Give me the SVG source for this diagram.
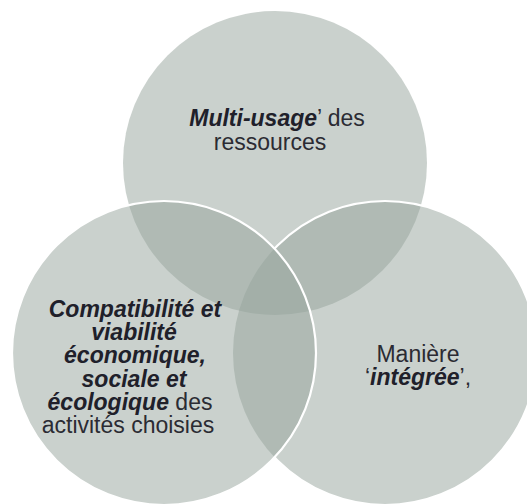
<svg xmlns="http://www.w3.org/2000/svg" width="527" height="504" viewBox="0 0 527 504">
  <style>
    .fill { fill: #95a49c; fill-opacity: 0.5; }
    .edge { fill: none; stroke: #ffffff; stroke-width: 2.2; }
    .t { font-family: "Liberation Sans", Arial, sans-serif; font-size: 23px; fill: #2b2b33; text-anchor: middle; }
    .b { font-weight: bold; font-style: italic; fill: #20202a; }
  </style>
  <defs>
    <mask id="outsideBL" maskUnits="userSpaceOnUse" x="0" y="0" width="527" height="504">
      <rect x="0" y="0" width="527" height="504" fill="#ffffff"/>
      <circle cx="164" cy="353" r="152" fill="#000000"/>
    </mask>
  </defs>
  <rect x="0" y="0" width="527" height="504" fill="#ffffff"/>

  <g id="node-multi-usage">
    <circle class="fill" cx="275" cy="163" r="152"/>
  </g>

  <g id="node-maniere-integree">
    <circle class="fill" cx="385" cy="353" r="152"/>
    <circle class="edge" cx="385" cy="353" r="152" mask="url(#outsideBL)"/>
  </g>

  <g id="node-compatibilite">
    <circle class="fill" cx="164" cy="353" r="152"/>
    <circle class="edge" cx="164" cy="353" r="152"/>
  </g>

  <g id="connectors"/>

  <g id="labels">
    <text class="t" x="277" y="126"><tspan class="b">Multi-usage</tspan>’ des</text>
    <text class="t" x="270" y="150">ressources</text>

    <text class="t" x="418" y="362">Manière</text>
    <text class="t" x="418" y="385">‘<tspan class="b">intégrée</tspan>’,</text>

    <text class="t" x="135" y="317"><tspan class="b">Compatibilité et</tspan></text>
    <text class="t" x="134" y="340"><tspan class="b">viabilité</tspan></text>
    <text class="t" x="135" y="363"><tspan class="b">économique,</tspan></text>
    <text class="t" x="134" y="387"><tspan class="b">sociale et</tspan></text>
    <text class="t" x="130" y="410"><tspan class="b">écologique</tspan> des</text>
    <text class="t" x="128" y="433">activités choisies</text>
  </g>
</svg>
